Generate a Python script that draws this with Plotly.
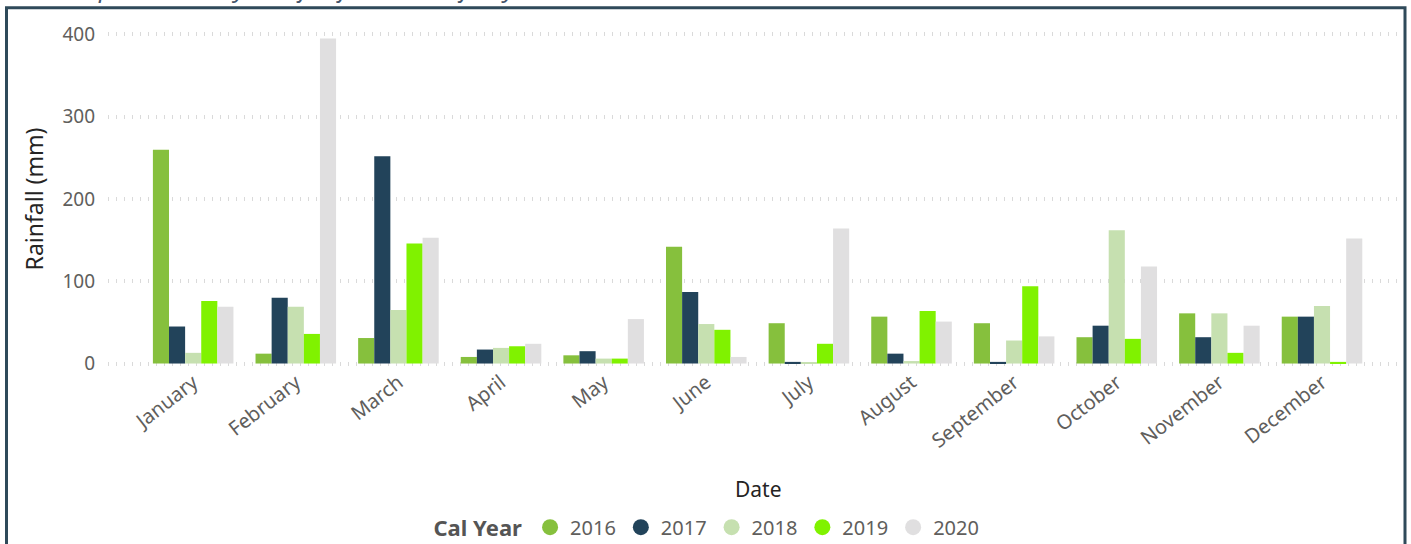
import plotly.graph_objects as go

months = ["January", "February", "March", "April", "May", "June", "July",
          "August", "September", "October", "November", "December"]
years = ["2016", "2017", "2018", "2019", "2020"]

rain_2016 = [260, 12, 31, 8, 10, 142, 49, 57, 49, 32, 61, 57]
rain_2017 = [45, 80, 252, 17, 15, 87, 2, 12, 2, 46, 32, 57]
rain_2018 = [13, 69, 65, 19, 6, 48, 1, 3, 28, 162, 61, 70]
rain_2019 = [76, 36, 146, 21, 6, 41, 24, 64, 94, 30, 13, 2]
rain_2020 = [69, 395, 153, 24, 54, 8, 164, 51, 33, 118, 46, 152]

series = [rain_2016, rain_2017, rain_2018, rain_2019, rain_2020]
colors = ["#86c03d", "#22435a", "#c6e0b0", "#80f200", "#e0dfe0"]

FONT = "Noto Sans, Segoe UI, sans-serif"

fig = go.Figure()
for yr, vals, col in zip(years, series, colors):
    fig.add_trace(go.Bar(x=months, y=vals, name=yr, marker=dict(color=col, line=dict(width=0)),
                         showlegend=False))
for yr, col in zip(years, colors):
    fig.add_trace(go.Scatter(x=[None], y=[None], mode="markers", name=yr,
                             marker=dict(symbol="circle", size=16, color=col)))

W, H = 1411, 544
top_pg, bot_pg, left_pg, right_pg = 31.8, 366.5, 108, 1400
ml, mr = left_pg, W - right_pg
mt, mb = top_pg, H - bot_pg
pw, ph = W - ml - mr, H - mt - mb

def px_x(p):
    return (p - ml) / pw

def px_y(p):
    return (H - mb - p) / ph

fig.update_layout(
    width=W, height=H,
    margin=dict(l=ml, r=mr, t=mt, b=mb, autoexpand=False),
    paper_bgcolor="white", plot_bgcolor="white",
    barmode="group", bargap=0.215, bargroupgap=0,
    font=dict(family=FONT, color="#605e5c", size=16),
    xaxis=dict(
        type="category", range=[-0.83, 11.76], tickangle=-38,
        tickfont=dict(size=20, color="#605e5c"), showgrid=False, showline=False,
        zeroline=False, ticks="", automargin=False,
    ),
    yaxis=dict(
        range=[-3, 403], tickvals=[0, 100, 200, 300, 400],
        tickfont=dict(size=19, color="#605e5c"),
        showgrid=True, gridcolor="#dadada", griddash="1px,7px", gridwidth=4,
        zeroline=False, showline=False, ticks="", ticklabelstandoff=12,
        title=dict(text="Rainfall (mm)", font=dict(size=23, color="#252423"), standoff=12),
        automargin=False,
    ),
    legend=dict(
        orientation="h", x=px_x(708), xanchor="center", y=px_y(528), yanchor="middle",
        title=dict(text="<b>Cal Year</b>", font=dict(size=22, color="#555555"), side="left"),
        font=dict(size=20, color="#605e5c"), itemwidth=30, tracegroupgap=0,
        bgcolor="rgba(0,0,0,0)",
    ),
    annotations=[
        dict(text="Date", xref="paper", yref="paper", x=px_x(758), y=px_y(490),
             xanchor="center", yanchor="middle", showarrow=False,
             font=dict(size=21, color="#252423")),
        dict(text="<i>Graph 1: Monthly Rainfall for the last five years</i>",
             xref="paper", yref="paper", x=px_x(58), y=px_y(-13),
             xanchor="left", yanchor="middle", showarrow=False,
             font=dict(size=24, color="#44546a")),
    ],
    shapes=[
        dict(type="rect", xref="paper", yref="paper",
             x0=px_x(6.5), x1=px_x(1405), y0=px_y(620), y1=px_y(7.5),
             line=dict(color="#2f4a5a", width=3), fillcolor="rgba(0,0,0,0)", layer="above"),
    ],
)

fig.write_html("out.html", config={"displayModeBar": False},
               post_script="document.body.style.margin='0';")
